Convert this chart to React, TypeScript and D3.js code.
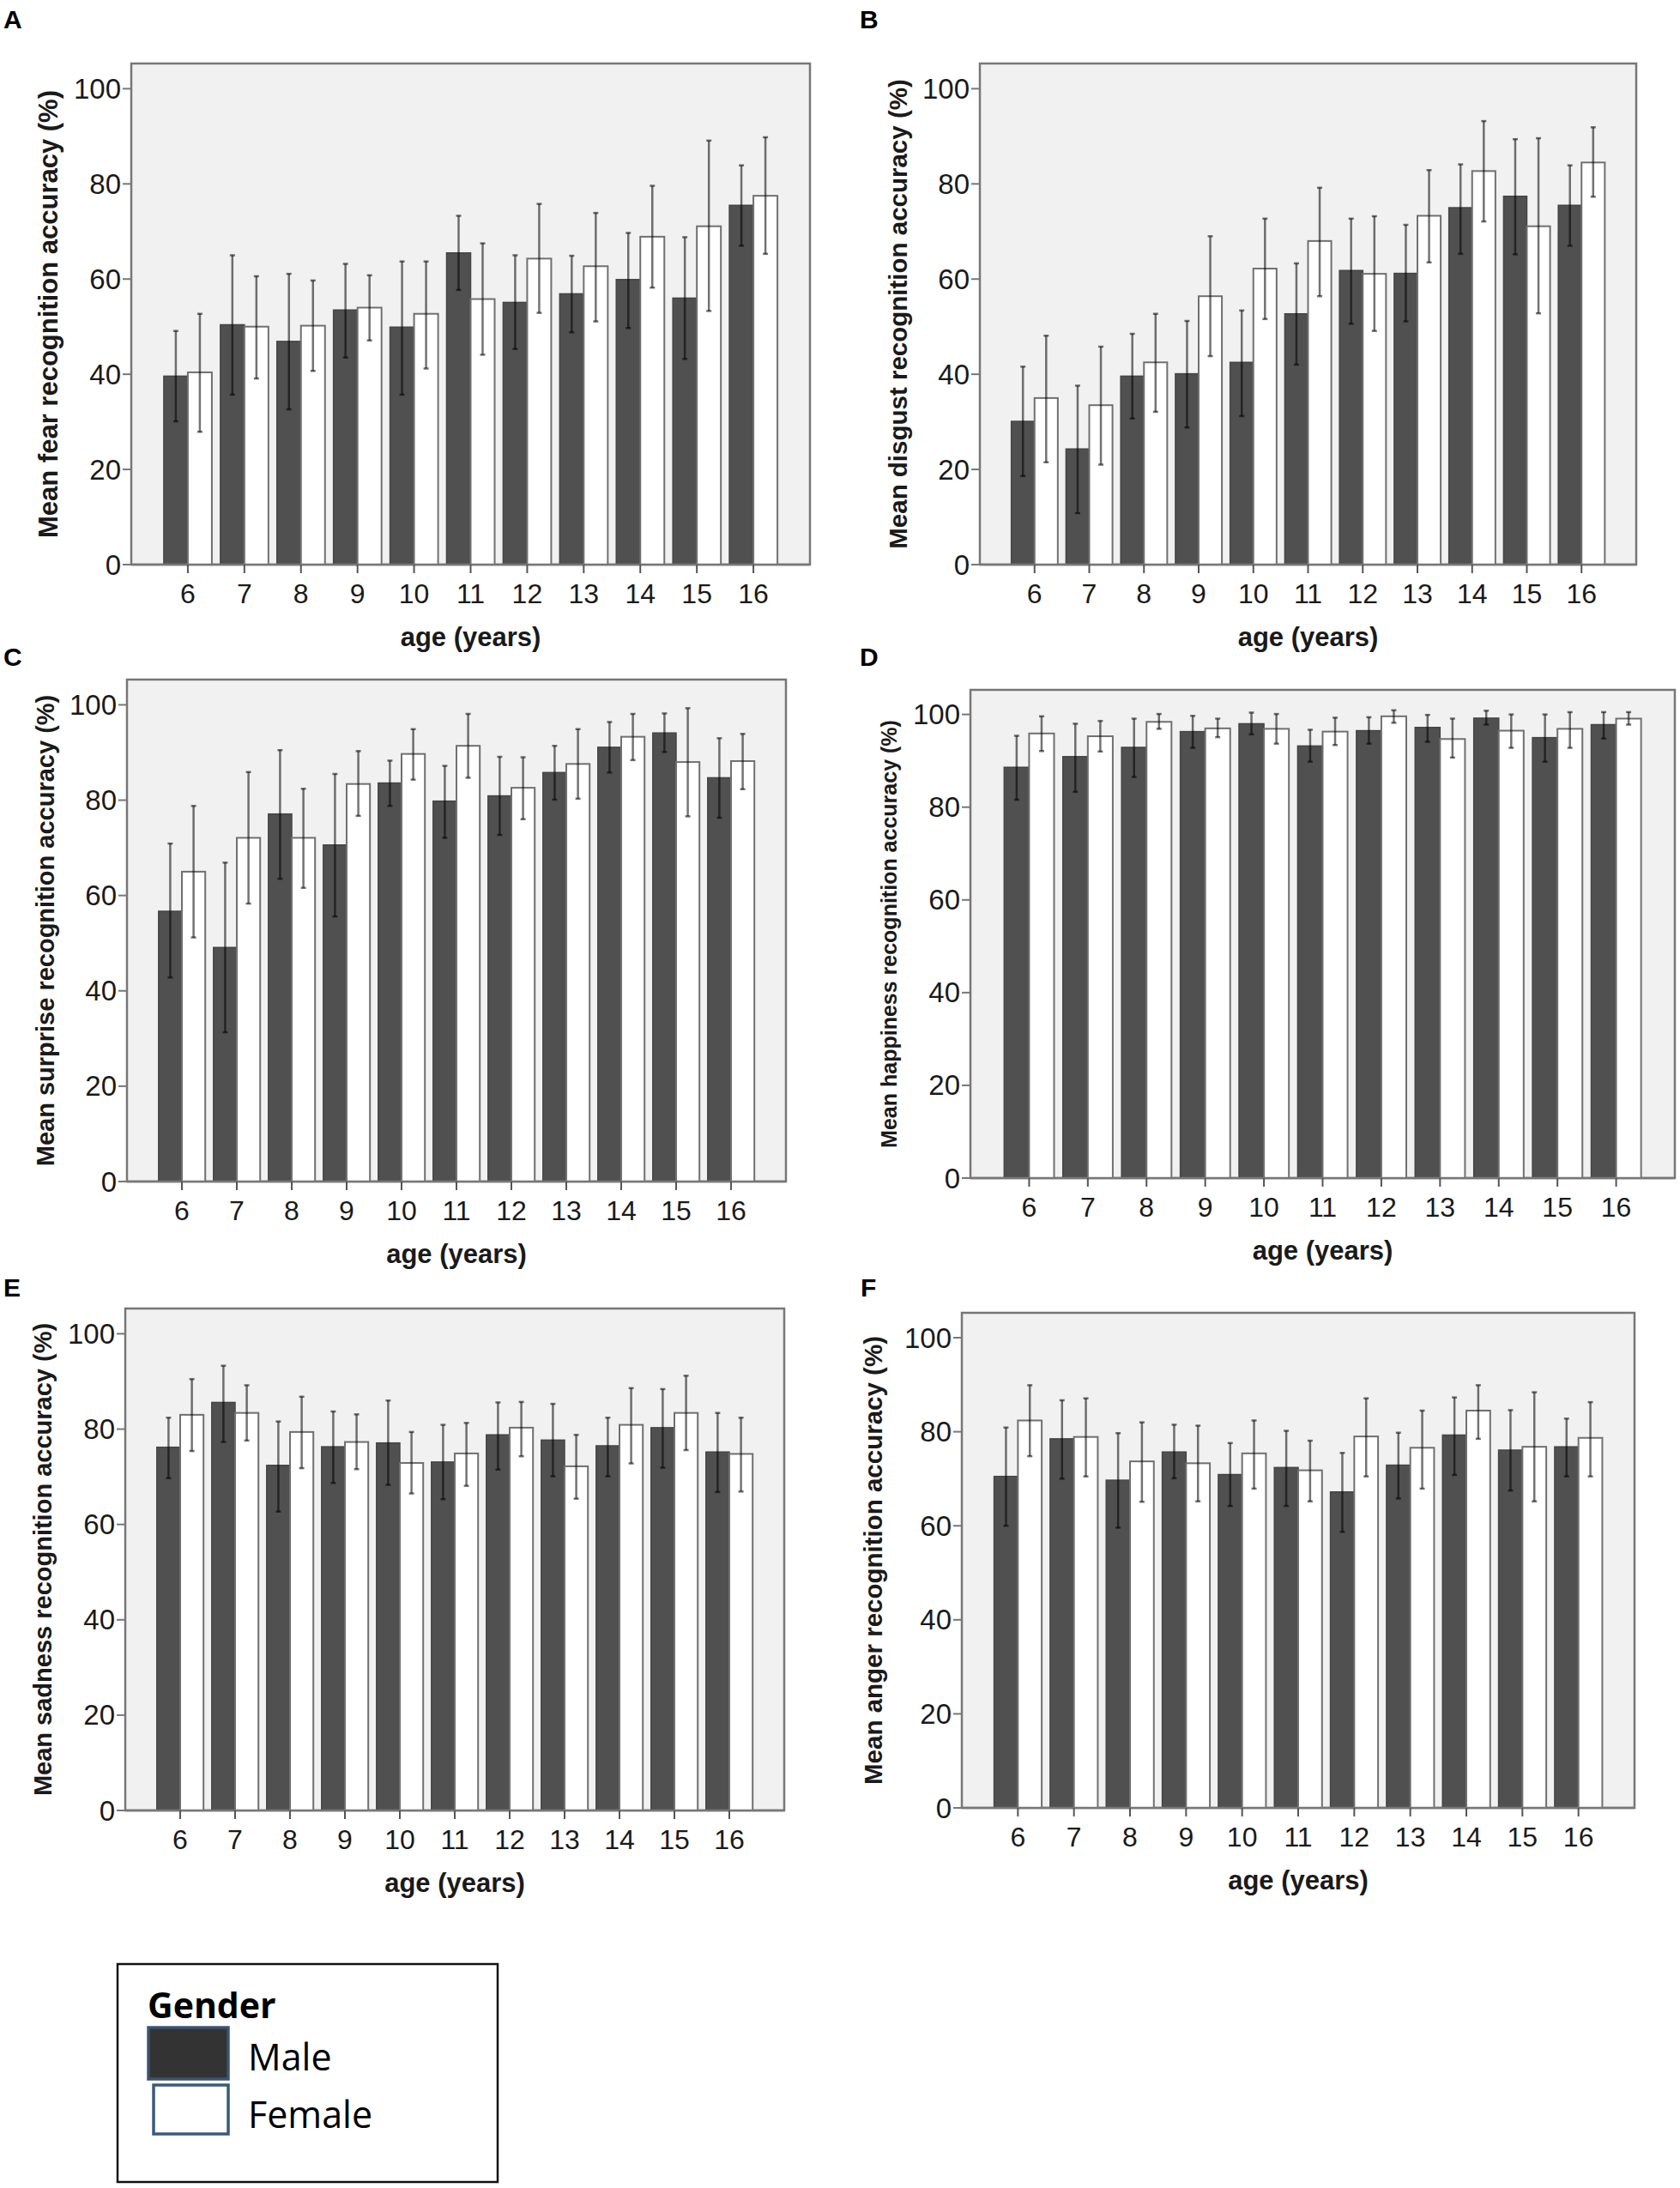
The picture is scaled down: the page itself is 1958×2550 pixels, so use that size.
import * as d3 from 'd3';

const ages = ['6', '7', '8', '9', '10', '11', '12', '13', '14', '15', '16'];
const yTicks = [0, 20, 40, 60, 80, 100];

// fear
const fearMale = [39.6, 50.4, 46.9, 53.5, 49.9, 65.5, 55.1, 56.9, 59.9, 56.0, 75.5];
const fearMaleLo = [30.1, 35.7, 32.6, 43.5, 35.7, 57.7, 45.3, 48.8, 49.7, 43.2, 67.0];
const fearMaleHi = [49.1, 65.0, 61.1, 63.2, 63.7, 73.3, 65.0, 64.9, 69.7, 68.8, 83.9];
const fearFemale = [40.4, 50.0, 50.2, 54.0, 52.7, 55.8, 64.3, 62.7, 68.9, 71.1, 77.5];
const fearFemaleLo = [27.9, 39.1, 40.7, 47.1, 41.2, 44.1, 52.9, 51.1, 58.2, 53.3, 65.3];
const fearFemaleHi = [52.7, 60.6, 59.7, 60.8, 63.7, 67.5, 75.8, 73.9, 79.6, 89.1, 89.8];

// disgust
const disgustMale = [30.1, 24.3, 39.6, 40.1, 42.5, 52.7, 61.8, 61.2, 75.0, 77.4, 75.5];
const disgustMaleLo = [18.6, 10.8, 30.7, 28.8, 31.2, 42.0, 50.6, 51.1, 65.3, 65.2, 67.0];
const disgustMaleHi = [41.6, 37.6, 48.5, 51.2, 53.4, 63.3, 72.7, 71.4, 84.1, 89.4, 83.9];
const disgustFemale = [35.0, 33.5, 42.5, 56.4, 62.2, 68.0, 61.1, 73.3, 82.7, 71.1, 84.5];
const disgustFemaleLo = [21.5, 21.0, 32.1, 43.8, 51.6, 56.4, 49.1, 63.5, 72.1, 52.8, 77.3];
const disgustFemaleHi = [48.1, 45.8, 52.7, 69.0, 72.7, 79.2, 73.2, 82.9, 93.2, 89.6, 91.9];

// surprise
const surpriseMale = [56.7, 49.1, 77.1, 70.6, 83.6, 79.8, 80.9, 85.8, 91.1, 94.1, 84.7];
const surpriseMaleLo = [42.8, 31.3, 63.5, 55.6, 78.8, 72.1, 72.7, 80.1, 85.8, 90.1, 76.3];
const surpriseMaleHi = [70.9, 66.9, 90.5, 85.5, 88.3, 87.2, 89.1, 91.4, 96.4, 98.2, 93.0];
const surpriseFemale = [65.0, 72.1, 72.1, 83.4, 89.7, 91.4, 82.6, 87.6, 93.3, 88.0, 88.2];
const surpriseFemaleLo = [51.2, 58.3, 61.6, 76.7, 84.3, 84.7, 76.0, 80.3, 88.4, 76.6, 82.3];
const surpriseFemaleHi = [78.8, 85.9, 82.4, 90.3, 94.9, 98.1, 89.0, 94.9, 98.1, 99.3, 93.9];

// happiness
const happyMale = [88.6, 90.9, 92.9, 96.3, 98.0, 93.2, 96.5, 97.2, 99.2, 95.0, 97.8];
const happyMaleLo = [81.6, 83.3, 86.5, 92.8, 95.7, 89.8, 93.7, 94.1, 97.8, 89.8, 94.8];
const happyMaleHi = [95.4, 98.0, 99.1, 99.7, 100.4, 96.7, 99.4, 99.9, 100.8, 100.0, 100.5];
const happyFemale = [95.9, 95.3, 98.4, 97.0, 96.9, 96.3, 99.6, 94.7, 96.5, 96.9, 99.1];
const happyFemaleLo = [92.1, 92.0, 96.9, 95.1, 93.7, 93.4, 98.2, 90.7, 92.8, 92.8, 97.8];
const happyFemaleHi = [99.6, 98.6, 100.1, 99.1, 100.1, 99.3, 100.9, 99.1, 100.0, 100.5, 100.5];

// sadness
const sadMale = [76.2, 85.6, 72.4, 76.3, 77.1, 73.1, 78.8, 77.7, 76.5, 80.3, 75.2];
const sadMaleLo = [69.7, 77.3, 62.7, 68.7, 68.3, 65.3, 71.5, 70.1, 70.1, 71.9, 66.8];
const sadMaleHi = [82.4, 93.3, 81.6, 83.7, 86.0, 80.9, 85.6, 85.3, 82.4, 88.4, 83.4];
const sadFemale = [83.0, 83.4, 79.4, 77.3, 72.9, 74.9, 80.3, 72.2, 80.9, 83.4, 74.8];
const sadFemaleLo = [75.4, 77.6, 71.8, 71.6, 66.5, 68.1, 74.3, 65.4, 72.8, 75.6, 66.9];
const sadFemaleHi = [90.5, 89.2, 86.8, 83.1, 79.4, 81.3, 85.7, 78.8, 88.6, 91.2, 82.4];

// anger
const angerMale = [70.5, 78.5, 69.7, 75.7, 70.9, 72.4, 67.2, 72.9, 79.3, 76.1, 76.8];
const angerMaleLo = [60.0, 70.0, 59.6, 70.1, 64.2, 64.2, 58.7, 65.8, 70.8, 67.5, 70.5];
const angerMaleHi = [80.9, 86.7, 79.7, 81.5, 77.6, 80.2, 75.5, 79.8, 87.3, 84.6, 82.8];
const angerFemale = [82.4, 78.9, 73.7, 73.3, 75.4, 71.8, 79.0, 76.6, 84.5, 76.8, 78.7];
const angerFemaleLo = [74.8, 70.5, 65.1, 65.2, 67.9, 65.2, 70.5, 67.9, 78.5, 65.2, 70.5];
const angerFemaleHi = [89.9, 87.1, 82.0, 81.3, 82.4, 78.1, 87.1, 84.5, 89.9, 88.4, 86.3];

const legendLabels = ['Male', 'Female'];

const FONT = '"Liberation Sans", Arial, sans-serif';
const MALE_FILL = '#505050';
const FRAME = '#777';
const ERR = 'rgba(0,0,0,0.55)';

interface PanelSpec {
  letter: string;
  yLabel: string;
  male: number[];
  maleLo: number[];
  maleHi: number[];
  female: number[];
  femaleLo: number[];
  femaleHi: number[];
  left: number;
  right: number;
  top: number;
  bottom: number;
  letterX: number;
  letterY: number;
  labelX: number;
  labelSize: number;
}

const panels: PanelSpec[] = [
  {
    letter: 'A', yLabel: 'Mean fear recognition accuracy (%)',
    male: fearMale, maleLo: fearMaleLo, maleHi: fearMaleHi,
    female: fearFemale, femaleLo: fearFemaleLo, femaleHi: fearFemaleHi,
    left: 153, right: 944, top: 74, bottom: 658, letterX: 4, letterY: 33, labelX: 56, labelSize: 31,
  },
  {
    letter: 'B', yLabel: 'Mean disgust recognition accuracy (%)',
    male: disgustMale, maleLo: disgustMaleLo, maleHi: disgustMaleHi,
    female: disgustFemale, femaleLo: disgustFemaleLo, femaleHi: disgustFemaleHi,
    left: 1142, right: 1907, top: 74, bottom: 658, letterX: 1002, letterY: 33, labelX: 1046, labelSize: 29.5,
  },
  {
    letter: 'C', yLabel: 'Mean surprise recognition accuracy (%)',
    male: surpriseMale, maleLo: surpriseMaleLo, maleHi: surpriseMaleHi,
    female: surpriseFemale, femaleLo: surpriseFemaleLo, femaleHi: surpriseFemaleHi,
    left: 148, right: 916, top: 792, bottom: 1377, letterX: 4, letterY: 776, labelX: 53, labelSize: 29,
  },
  {
    letter: 'D', yLabel: 'Mean happiness recognition accuracy (%)',
    male: happyMale, maleLo: happyMaleLo, maleHi: happyMaleHi,
    female: happyFemale, femaleLo: happyFemaleLo, femaleHi: happyFemaleHi,
    left: 1131, right: 1952, top: 804, bottom: 1373, letterX: 1002, letterY: 776, labelX: 1036, labelSize: 25,
  },
  {
    letter: 'E', yLabel: 'Mean sadness recognition accuracy (%)',
    male: sadMale, maleLo: sadMaleLo, maleHi: sadMaleHi,
    female: sadFemale, femaleLo: sadFemaleLo, femaleHi: sadFemaleHi,
    left: 146, right: 914, top: 1525, bottom: 2110, letterX: 4, letterY: 1511, labelX: 50, labelSize: 29,
  },
  {
    letter: 'F', yLabel: 'Mean anger recognition accuracy (%)',
    male: angerMale, maleLo: angerMaleLo, maleHi: angerMaleHi,
    female: angerFemale, femaleLo: angerFemaleLo, femaleHi: angerFemaleHi,
    left: 1121, right: 1905, top: 1530, bottom: 2107, letterX: 1003, letterY: 1511, labelX: 1017, labelSize: 29.5,
  },
];

function ErrorBar({ x, lo, hi }: { x: number; lo: number; hi: number }) {
  return (
    <g stroke={ERR} strokeWidth={2.5}>
      <line x1={x} x2={x} y1={lo} y2={hi} />
      <line x1={x - 3} x2={x + 3} y1={lo} y2={lo} />
      <line x1={x - 3} x2={x + 3} y1={hi} y2={hi} />
    </g>
  );
}

function Panel({ p }: { p: PanelSpec }) {
  const x = d3.scalePoint<string>().domain(ages).range([p.left, p.right]).padding(1);
  const y = d3.scaleLinear().domain([0, 105.3]).range([p.bottom, p.top]);
  const w = x.step() * 0.425;
  const midX = (p.left + p.right) / 2;
  const midY = (p.top + p.bottom) / 2;

  return (
    <g fontFamily={FONT}>
      <text x={p.letterX} y={p.letterY} fontSize={30} fontWeight="bold" fill="#000">
        {p.letter}
      </text>
      <rect
        x={p.left}
        y={p.top}
        width={p.right - p.left}
        height={p.bottom - p.top}
        fill="#f1f1f1"
        stroke={FRAME}
        strokeWidth={2.5}
      />
      {ages.map((a, i) => {
        const cx = x(a) as number;
        return (
          <g key={a}>
            <rect
              x={cx - w}
              y={y(p.male[i])}
              width={w}
              height={y(0) - y(p.male[i])}
              fill={MALE_FILL}
              stroke="#454545"
              strokeWidth={1.5}
            />
            <rect
              x={cx}
              y={y(p.female[i])}
              width={w}
              height={y(0) - y(p.female[i])}
              fill="#fff"
              stroke="#707070"
              strokeWidth={2}
            />
            <ErrorBar x={cx - w / 2} lo={y(p.maleLo[i])} hi={y(p.maleHi[i])} />
            <ErrorBar x={cx + w / 2} lo={y(p.femaleLo[i])} hi={y(p.femaleHi[i])} />
          </g>
        );
      })}
      {/* axes */}
      <line x1={p.left} x2={p.right} y1={y(0)} y2={y(0)} stroke={FRAME} strokeWidth={2.5} />
      {yTicks.map((t) => (
        <g key={t}>
          <line x1={p.left - 10} x2={p.left} y1={y(t)} y2={y(t)} stroke={FRAME} strokeWidth={2} />
          <text
            x={p.left - 12}
            y={y(t)}
            textAnchor="end"
            dominantBaseline="central"
            fontSize={33}
            fill="#1a1a1a"
          >
            {t}
          </text>
        </g>
      ))}
      {ages.map((a) => (
        <g key={a}>
          <line x1={x(a)} x2={x(a)} y1={y(0)} y2={y(0) + 10} stroke="#555" strokeWidth={2} />
          <text x={x(a)} y={y(0) + 45} textAnchor="middle" fontSize={32} fill="#1a1a1a">
            {a}
          </text>
        </g>
      ))}
      <text x={midX} y={y(0) + 95} textAnchor="middle" fontSize={31} fontWeight="bold" fill="#1a1a1a">
        age (years)
      </text>
      <text
        transform={`translate(${p.labelX},${midY}) rotate(-90)`}
        textAnchor="middle"
        dominantBaseline="central"
        fontSize={p.labelSize}
        fontWeight="bold"
        fill="#1a1a1a"
      >
        {p.yLabel}
      </text>
    </g>
  );
}

function Legend() {
  const lf = '"Open Sans", "Noto Sans", sans-serif';
  return (
    <g fontFamily={lf}>
      <rect x={137} y={2289} width={443} height={254} fill="#fff" stroke="#111" strokeWidth={2.5} />
      <text x={172} y={2352} fontSize={41} fontWeight="bold" fill="#000">
        Gender
      </text>
      <rect x={173} y={2363} width={93} height={60} fill="#333" stroke="#3b5470" strokeWidth={3.5} />
      <rect x={179} y={2430} width={87} height={57} fill="#fff" stroke="#3b5a7a" strokeWidth={3.5} />
      {legendLabels.map((l, i) => (
        <text key={l} x={289} y={2413 + i * 67} fontSize={43} fill="#000">
          {l}
        </text>
      ))}
    </g>
  );
}

export default function App() {
  return (
    <div style={{ position: 'absolute', left: 0, top: 0, background: '#fff' }}>
      <svg width={1958} height={2550} viewBox="0 0 1958 2550" style={{ display: 'block' }}>
        <rect width={1958} height={2550} fill="#fff" />
        {panels.map((p) => (
          <Panel key={p.letter} p={p} />
        ))}
        <Legend />
      </svg>
    </div>
  );
}
